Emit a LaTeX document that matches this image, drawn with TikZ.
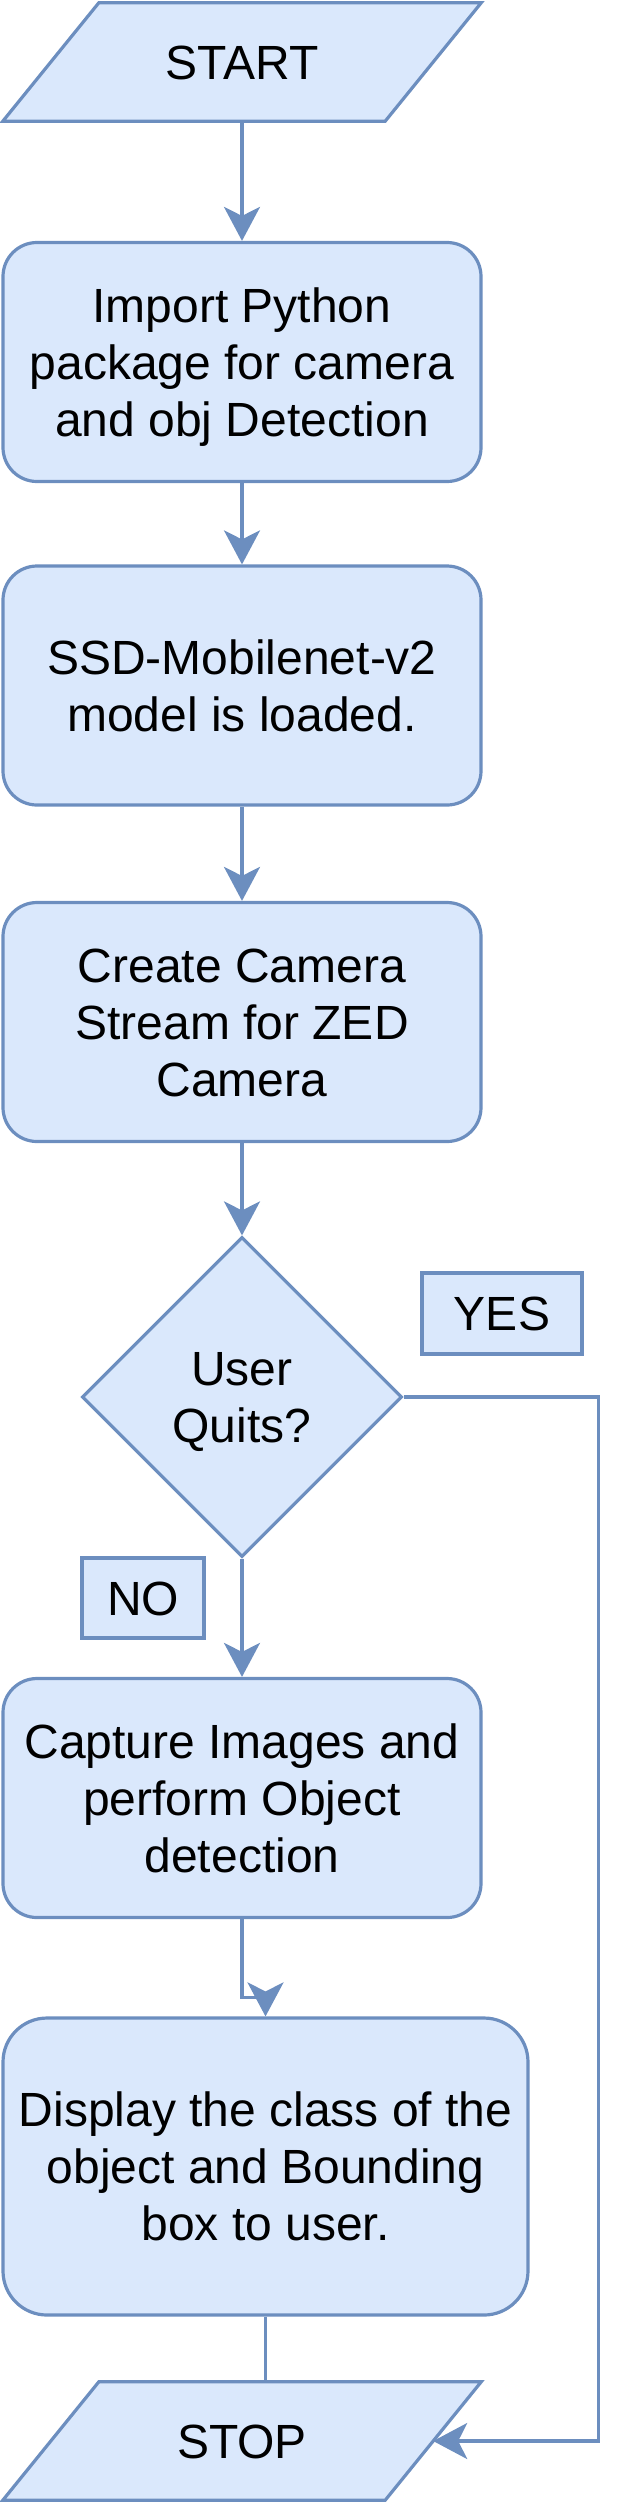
\documentclass[tikz,border=0pt]{standalone}
\usepackage{fontspec}
\setmainfont{Liberation Sans}
\usetikzlibrary{arrows.meta,shapes.geometric,calc,backgrounds}
\definecolor{fillc}{HTML}{DAE8FC}
\definecolor{linec}{HTML}{6C8EBF}
\newcommand\lnstrut{\rule[-11.5pt]{0pt}{57pt}}
\begin{document}
\begin{tikzpicture}[x=1pt,y=-1pt,
  base/.style={draw=linec, fill=fillc, line width=3.2pt, align=center, inner sep=0pt, font=\fontsize{48}{57}\selectfont},
  stepbox/.style={base, rectangle, rounded corners=34pt, minimum width=478pt, minimum height=239pt},
  para/.style={rectangle, inner sep=0pt, minimum width=478pt, minimum height=118pt, align=center, font=\fontsize{48}{57}\selectfont},
  paraframe/.style={draw=linec, fill=fillc, line width=3.2pt, line join=miter},
  lbl/.style={base, rectangle},
  decision/.style={base, diamond, minimum width=320pt, minimum height=320pt},
  arr/.style={draw=linec, line width=3.2pt, -{Stealth[length=34pt,width=36pt,inset=9pt]}},
  link/.style={draw=linec, line width=3.2pt}]

\useasboundingbox (0,0) rectangle (636,2504);

\node[para] (start) at (242,62) {\lnstrut START};
\node[stepbox] (imp) at (242,362) {\lnstrut Import Python\\package for camera\\and obj Detection\lnstrut};
\node[stepbox] (ssd) at (242,685.5) {\lnstrut SSD-Mobilenet-v2\\model is loaded.\lnstrut};
\node[stepbox] (cam) at (242,1022) {\lnstrut Create Camera\\Stream for ZED\\Camera\lnstrut};
\node[decision] (dec) at (242,1397) {\lnstrut User\\Quits?\lnstrut};
\node[lbl, minimum width=160pt, minimum height=81pt] (yes) at (502,1313.5) {\lnstrut YES};
\node[lbl, minimum width=122pt, minimum height=80pt] (no) at (143,1598) {\lnstrut NO};
\node[stepbox] (cap) at (242,1798) {\lnstrut Capture Images and\\perform Object\\detection\lnstrut};
\node[stepbox, minimum width=525pt, minimum height=297pt, rounded corners=44pt] (disp) at (265.5,2166.5) {\lnstrut Display the class of the\\object and Bounding\\box to user.\lnstrut};
\node[para] (stop) at (242,2441) {\lnstrut STOP};

\begin{scope}[on background layer]
\path[paraframe] ([xshift=96pt]start.north west) -- (start.north east) -- ([xshift=-96pt]start.south east) -- (start.south west) -- cycle;
\path[paraframe] ([xshift=96pt]stop.north west) -- (stop.north east) -- ([xshift=-96pt]stop.south east) -- (stop.south west) -- cycle;
\end{scope}

\coordinate (stopR) at ($(stop.east)+(-48,0)$);

\draw[arr] (start.south) -- (imp.north);
\draw[arr] (imp.south) -- (ssd.north);
\draw[arr] (ssd.south) -- (cam.north);
\draw[arr] (cam.south) -- (dec.north);
\draw[arr] (dec.south) -- (cap.north);
\draw[arr] (cap.south) |- ($(disp.north)+(0,-19)$) -- (disp.north);
\draw[link] (disp.south) -- (disp.south |- stop.north);
\draw[arr] (dec.east) -- ++(195,0) |- (stopR);
\end{tikzpicture}
\end{document}
